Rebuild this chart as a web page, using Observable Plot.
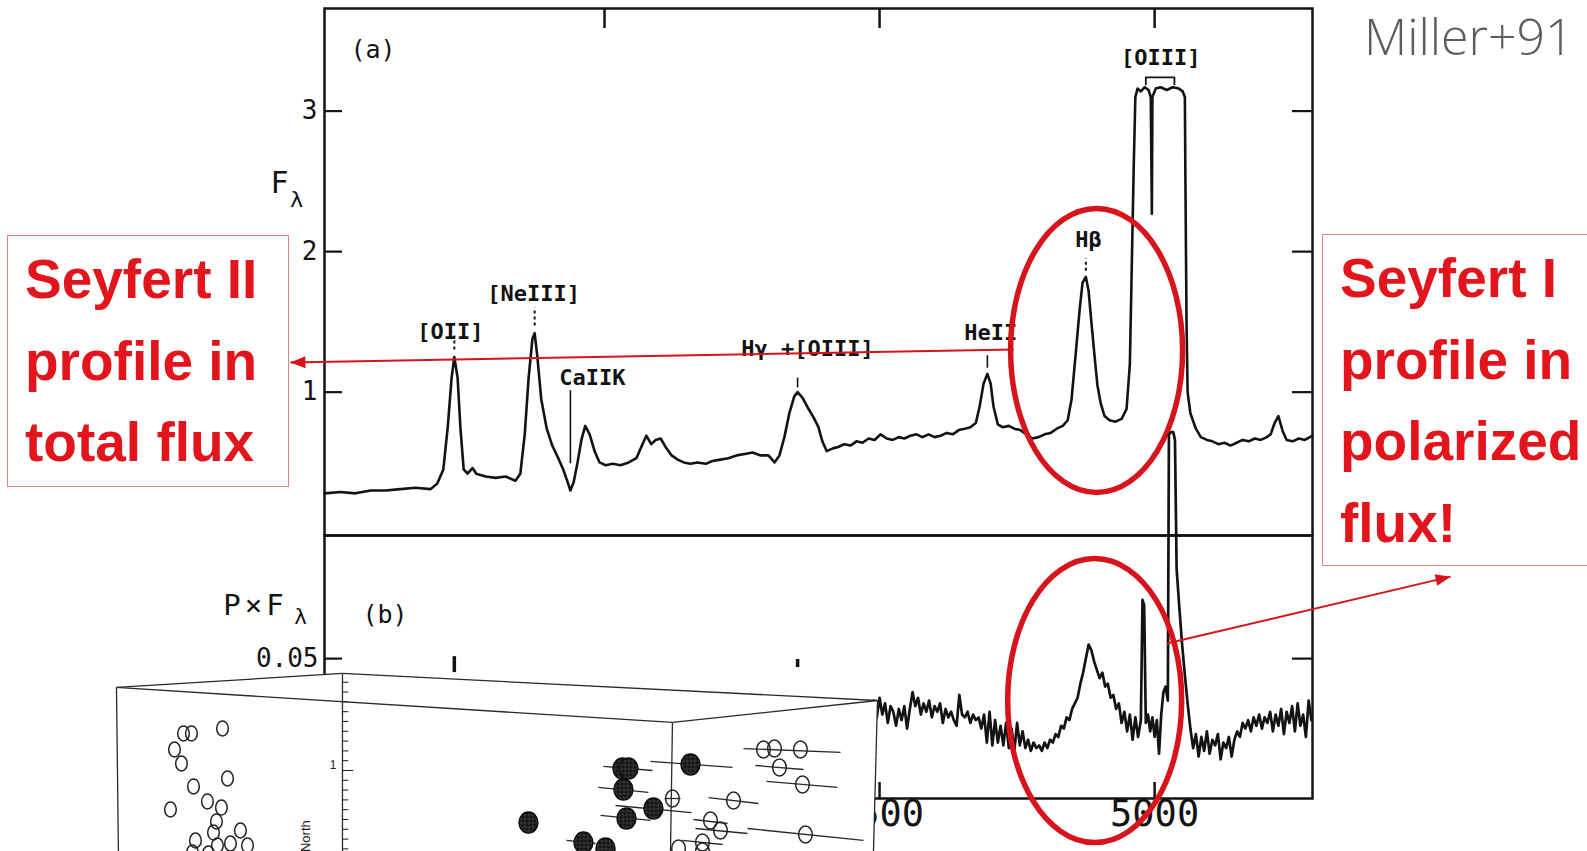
<!DOCTYPE html>
<html>
<head>
<meta charset="utf-8">
<script src="https://cdn.jsdelivr.net/npm/d3@7"></script>
<script src="https://cdn.jsdelivr.net/npm/@observablehq/plot@0.6"></script>
<style>
  html, body { margin: 0; padding: 0; background: #fff; }
  #stage { position: relative; width: 1587px; height: 851px; overflow: hidden; background: #fff; }
  #stage svg { position: absolute; overflow: visible; }
  .box {
    position: absolute; box-sizing: border-box; border: 1.5px solid #d98585;
    font-family: "Liberation Sans", Arial, sans-serif; font-weight: bold;
    font-size: 55px; line-height: 81.5px; color: #e2141c; white-space: nowrap; background: #fff;
  }
  .cite {
    position: absolute; font-family: "Open Sans", sans-serif; font-weight: 300;
    font-size: 50px; line-height: 50px; color: #5c5c5c; white-space: nowrap;
  }
</style>
</head>
<body>
<div id="stage"></div>
<script>
// ---------- data ----------
// (a) total flux F_lambda versus wavelength (Å)
const totalFluxPoints = [
  [3491,0.28],[3520,0.29],[3547,0.28],[3575,0.30],[3602,0.30],[3629,0.31],[3656,0.32],[3684,0.31],
  [3696,0.35],[3707,0.45],[3715,0.75],[3722,1.10],[3727,1.25],[3733,1.10],[3738,0.75],[3744,0.45],
  [3751,0.42],[3760,0.46],[3767,0.42],[3784,0.40],[3802,0.39],[3820,0.40],[3838,0.37],[3847,0.42],
  [3855,0.70],[3862,1.10],[3869,1.38],[3873,1.42],[3878,1.25],[3885,0.95],[3895,0.74],[3905,0.62],
  [3916,0.53],[3925,0.45],[3933,0.36],[3938,0.30],[3944,0.36],[3951,0.50],[3958,0.66],[3965,0.76],
  [3973,0.70],[3982,0.58],[3991,0.50],[4002,0.48],[4015,0.49],[4029,0.48],[4044,0.50],[4058,0.53],
  [4069,0.63],[4076,0.69],[4085,0.63],[4093,0.66],[4102,0.67],[4111,0.61],[4122,0.55],[4133,0.52],
  [4144,0.50],[4156,0.49],[4169,0.50],[4184,0.49],[4196,0.51],[4211,0.52],[4225,0.53],[4240,0.55],
  [4255,0.56],[4269,0.57],[4284,0.55],[4298,0.55],[4309,0.50],[4318,0.55],[4327,0.68],[4336,0.85],
  [4345,0.97],[4351,1.00],[4360,0.96],[4371,0.88],[4380,0.82],[4389,0.75],[4396,0.65],[4404,0.58],
  [4415,0.60],[4425,0.61],[4436,0.63],[4447,0.62],[4458,0.65],[4469,0.64],[4480,0.67],[4491,0.66],
  [4502,0.70],[4513,0.67],[4524,0.66],[4535,0.68],[4545,0.67],[4556,0.69],[4567,0.70],[4578,0.68],
  [4589,0.70],[4600,0.68],[4611,0.69],[4622,0.71],[4633,0.70],[4644,0.73],[4655,0.74],[4665,0.75],
  [4675,0.78],[4682,0.90],[4689,1.06],[4696,1.13],[4702,1.06],[4707,0.90],[4715,0.77],[4724,0.75],
  [4735,0.76],[4745,0.74],[4756,0.73],[4767,0.70],[4778,0.67],[4789,0.68],[4800,0.70],[4811,0.71],
  [4822,0.74],[4833,0.76],[4842,0.80],[4849,0.95],[4856,1.25],[4864,1.60],[4869,1.78],[4875,1.82],
  [4880,1.72],[4885,1.50],[4891,1.25],[4896,1.05],[4902,0.92],[4909,0.83],[4918,0.80],[4929,0.79],
  [4940,0.81],[4949,0.88],[4955,1.20],[4958,1.80],[4962,2.60],[4965,3.10],[4969,3.16],[4975,3.14],
  [4982,3.17],[4989,3.15],[4993,3.10],[4995,2.27],[4996,3.10],[5002,3.16],[5011,3.17],[5022,3.15],
  [5033,3.17],[5044,3.16],[5051,3.14],[5055,3.10],[5056,2.50],[5058,1.50],[5060,1.00],[5065,0.85],
  [5075,0.74],[5084,0.68],[5095,0.66],[5105,0.65],[5116,0.63],[5127,0.64],[5138,0.62],[5149,0.64],
  [5160,0.66],[5171,0.65],[5182,0.67],[5193,0.66],[5204,0.68],[5211,0.70],[5218,0.78],[5225,0.83],
  [5233,0.72],[5240,0.66],[5251,0.65],[5262,0.67],[5273,0.66],[5287,0.69]
];

// (b) polarized flux P x F_lambda versus wavelength (Å)
const polarizedFluxPoints = [
  [4485,0.031],[4490,0.035],[4495,0.029],[4500,0.036],[4505,0.030],[4510,0.034],[4515,0.027],[4520,0.033],
  [4525,0.031],[4530,0.026],[4535,0.032],[4540,0.028],[4545,0.033],[4550,0.025],[4555,0.032],[4560,0.038],
  [4565,0.033],[4570,0.036],[4575,0.030],[4580,0.034],[4585,0.031],[4590,0.035],[4595,0.029],[4600,0.033],
  [4605,0.031],[4610,0.034],[4615,0.027],[4620,0.032],[4625,0.029],[4630,0.031],[4635,0.028],[4640,0.026],
  [4645,0.037],[4650,0.030],[4655,0.029],[4660,0.031],[4665,0.027],[4670,0.030],[4675,0.028],[4680,0.029],
  [4685,0.025],[4690,0.030],[4695,0.020],[4700,0.031],[4705,0.019],[4710,0.028],[4715,0.020],[4720,0.026],
  [4725,0.019],[4730,0.027],[4735,0.018],[4740,0.025],[4745,0.017],[4750,0.027],[4755,0.019],[4760,0.024],
  [4765,0.018],[4770,0.021],[4775,0.017],[4780,0.020],[4785,0.018],[4790,0.019],[4795,0.017],[4800,0.020],
  [4805,0.018],[4810,0.021],[4815,0.020],[4820,0.023],[4825,0.022],[4830,0.026],[4835,0.025],[4840,0.029],
  [4845,0.028],[4850,0.032],[4855,0.034],[4860,0.036],[4865,0.041],[4870,0.045],[4875,0.050],[4880,0.055],
  [4885,0.053],[4890,0.049],[4895,0.046],[4900,0.043],[4905,0.045],[4910,0.040],[4915,0.041],[4920,0.036],
  [4925,0.037],[4930,0.032],[4935,0.034],[4940,0.027],[4945,0.031],[4950,0.024],[4955,0.030],[4960,0.021],
  [4965,0.029],[4970,0.022],[4975,0.028],[4978,0.071],[4981,0.069],[4984,0.027],[4988,0.030],[4992,0.024],
  [4996,0.029],[5000,0.022],[5004,0.028],[5008,0.016],[5012,0.030],[5016,0.038],[5020,0.040],[5024,0.035],
  [5026,0.130],[5030,0.131],[5034,0.131],[5037,0.128],[5040,0.082],[5045,0.068],[5050,0.055],[5055,0.044],
  [5060,0.034],[5065,0.025],[5070,0.018],[5075,0.023],[5080,0.015],[5085,0.022],[5090,0.017],[5095,0.024],
  [5100,0.016],[5105,0.021],[5110,0.019],[5115,0.023],[5120,0.014],[5125,0.020],[5130,0.018],[5135,0.022],
  [5140,0.015],[5145,0.021],[5150,0.024],[5155,0.022],[5160,0.027],[5165,0.025],[5170,0.028],[5175,0.024],
  [5180,0.029],[5185,0.026],[5190,0.030],[5195,0.025],[5200,0.029],[5205,0.027],[5210,0.031],[5215,0.024],
  [5220,0.030],[5225,0.026],[5230,0.032],[5235,0.023],[5240,0.031],[5245,0.027],[5250,0.033],[5255,0.024],
  [5260,0.034],[5265,0.026],[5270,0.030],[5275,0.022],[5280,0.035],[5285,0.028]
];

const waveTicks = [4000, 4500, 5000];
const fluxTicks = [1, 2, 3];
const polTicks = [0.05];

// emission-line identifications in panel (a)
const lineNames = ["[OII]", "[NeIII]", "CaIIK", "Hγ +[OIII]", "HeII", "Hβ", "[OIII]"];
const lineLabelWaves = [3720, 3871, 3978, 4369, 4702, 4880, 5011];
const lineLabelFlux = [1.43, 1.70, 1.10, 1.31, 1.42, 2.08, 3.38];
// little marker strokes above the lines: wavelength, bottom, top, dashed?
const markerWaves = [3727, 3873, 3938, 4351, 4696, 4875];
const markerLow = [1.30, 1.47, 0.49, 1.03, 1.17, 1.86];
const markerHigh = [1.40, 1.60, 1.01, 1.10, 1.26, 1.95];
const markerDashed = [true, true, false, false, false, true];
// bracket joining the two [OIII] lines
const oiiiBracket = [[4984, 3.19], [4984, 3.24], [5036, 3.24], [5036, 3.19]];
// markers in panel (b)
const polMarkerWaves = [3727, 4351];
const polMarkerLow = [0.045, 0.0468];
const polMarkerHigh = [0.0507, 0.0497];

// highlighted H-beta region in each panel (centre wavelength, centre value)
const hbetaTotal = {wave: 4894.5, value: 1.297};
const hbetaPolar = {wave: 4891, value: 0.035};
// pointer from the total-flux H-beta to the left caption
const pointerTotal = {wave1: 4744, value1: 1.304, wave2: 3429, value2: 1.211};
// pointer from the polarized H-beta to the right caption
const pointerPolar = {wave1: 5022, value1: 0.0554, wave2: 5538, value2: 0.0793};

// inset: projected positions (East, North)
const insetOpenNear = [[-1.622,1.378],[-1.541,1.378],[-1.224,1.429],[-1.714,1.214],[-1.643,1.071],[-1.173,0.918],
  [-1.520,0.837],[-1.755,0.602],[-1.378,0.684],[-1.235,0.622],[-1.286,0.480],[-1.316,0.367],[-1.041,0.388],
  [-1.500,0.286],[-1.276,0.235],[-1.143,0.255],[-0.969,0.235],[-1.531,0.163],[-1.367,0.153]];
const insetFilled = [[1.898,0.469],[2.857,1.020],[2.918,1.020],[2.867,0.806],[3.173,0.612],[2.898,0.510],
  [3.551,1.061],[2.459,0.265],[2.684,0.204]];
const insetOpenFar = [[4.296,1.214],[4.408,1.224],[4.673,1.214],[4.459,1.031],[4.694,0.857],[3.990,0.694],
  [3.367,0.714],[3.755,0.490],[3.857,0.388],[3.673,0.265],[3.429,0.204],[4.724,0.347],[3.673,0.173]];
const insetBars = [[2.663,1.041,3.163,1.000],[3.143,1.092,3.980,1.031],[2.612,0.827,3.122,0.776],
  [2.786,0.643,3.561,0.571],[2.633,0.541,3.143,0.490],[2.286,0.286,2.582,0.255],[4.092,1.224,5.082,1.184],
  [4.214,1.051,4.704,1.010],[4.327,0.888,5.051,0.827],[3.735,0.724,4.245,0.663],[3.582,0.500,3.929,0.459],
  [3.602,0.408,4.133,0.357],[4.133,0.408,5.316,0.286],[3.469,0.286,3.878,0.245],[3.286,0.714,3.449,0.714]];
// box corners: back-left, back-top, right, front-top, and their floor points
const insetFace = [[-2.306,1.847],[0,1.990],[5.459,1.714],[5.418,0.16],[-2.286,0.16]];
const insetEdges = [
  [-2.306,1.847,0,1.990],[0,1.990,5.459,1.714],[-2.306,1.847,3.367,1.490],[3.367,1.490,5.459,1.714],
  [-2.306,1.847,-2.286,0.16],[5.459,1.714,5.418,0.16],[3.367,1.490,3.347,0.16],[0,1.990,0,0.16]];
const northTicks = [0.2,0.3,0.4,0.5,0.6,0.7,0.8,0.9,1.0,1.1,1.2,1.3,1.4,1.5,1.6,1.7,1.8,1.9];

// ---------- drawing ----------
const INK = "#131313";
const RED = "#d7141c";
const FONT = "DejaVu Sans Mono, monospace";

function ellipseSymbol(rx, ry) {
  const k = 0.5522847498;
  return {
    draw(ctx) {
      ctx.moveTo(rx, 0);
      ctx.bezierCurveTo(rx, ry * k, rx * k, ry, 0, ry);
      ctx.bezierCurveTo(-rx * k, ry, -rx, ry * k, -rx, 0);
      ctx.bezierCurveTo(-rx, -ry * k, -rx * k, -ry, 0, -ry);
      ctx.bezierCurveTo(rx * k, -ry, rx, -ry * k, rx, 0);
      ctx.closePath();
    }
  };
}
// filled arrow head with its tip at the anchor point, pointing up before rotation
const arrowHead = {
  draw(ctx) { ctx.moveTo(0, 0); ctx.lineTo(6, 15); ctx.lineTo(-6, 15); ctx.closePath(); }
};

const totalFlux = totalFluxPoints.map(([wave, flux]) => ({wave, flux}));
const polarizedFlux = polarizedFluxPoints.map(([wave, flux]) => ({wave, flux}));
const markers = markerWaves.map((wave, i) => ({wave, y1: markerLow[i], y2: markerHigh[i], dashed: markerDashed[i]}));
const labels = lineNames.map((name, i) => ({name, wave: lineLabelWaves[i], flux: lineLabelFlux[i]}));
const polMarkers = polMarkerWaves.map((wave, i) => ({wave, y1: polMarkerLow[i], y2: polMarkerHigh[i]}));

const FRAME_W = 1312 - 324;
const style = {background: "transparent", fontFamily: FONT, color: INK, overflow: "visible"};

// panel (a): total flux
const panelA = Plot.plot({
  width: 1587, height: 536,
  marginLeft: 324, marginRight: 275, marginTop: 8, marginBottom: 1,
  style,
  x: {domain: [3491, 5287], axis: null},
  y: {domain: [-0.02, 3.73], axis: null},
  marks: [
    Plot.frame({stroke: INK, strokeWidth: 2.5}),
    Plot.tickY(fluxTicks, {stroke: INK, strokeWidth: 2.2, insetRight: FRAME_W - 18}),
    Plot.tickY(fluxTicks, {stroke: INK, strokeWidth: 2.2, insetLeft: FRAME_W - 20}),
    Plot.tickX(waveTicks, {stroke: INK, strokeWidth: 2.5, insetBottom: 527 - 20}),
    Plot.text(fluxTicks, {y: d => d, text: d => String(d), frameAnchor: "left", dx: -7, textAnchor: "end",
      fontSize: 26, fill: INK}),
    Plot.text(["F"], {frameAnchor: "left", y: () => 2.485, text: d => d, dx: -45, textAnchor: "middle",
      fontSize: 30, fill: INK}),
    Plot.text(["λ"], {frameAnchor: "left", y: () => 2.37, text: d => d, dx: -28, textAnchor: "middle",
      fontSize: 22, fill: INK}),
    Plot.text(["(a)"], {frameAnchor: "top-left", text: d => d, dx: 26, dy: 32, textAnchor: "start",
      fontSize: 25, fill: INK}),
    Plot.line(totalFlux, {x: "wave", y: "flux", stroke: INK, strokeWidth: 2.6, strokeLinejoin: "round"}),
    Plot.ruleX(markers.filter(d => d.dashed), {x: "wave", y1: "y1", y2: "y2", stroke: INK, strokeWidth: 2,
      strokeDasharray: "3,3"}),
    Plot.ruleX(markers.filter(d => !d.dashed), {x: "wave", y1: "y1", y2: "y2", stroke: INK, strokeWidth: 1.6}),
    Plot.text(labels, {x: "wave", y: "flux", text: "name", fontSize: 22, fontWeight: "bold", fill: INK}),
    Plot.line(oiiiBracket, {x: d => d[0], y: d => d[1], stroke: INK, strokeWidth: 1.8}),
    Plot.dot([hbetaTotal], {x: "wave", y: "value", symbol: ellipseSymbol(86, 142), fill: "none",
      stroke: RED, strokeWidth: 5.5}),
    Plot.link([pointerTotal], {x1: "wave1", y1: "value1", x2: "wave2", y2: "value2", stroke: RED, strokeWidth: 2}),
    Plot.dot([pointerTotal], {x: "wave2", y: "value2", symbol: arrowHead, rotate: -91, fill: RED, stroke: "none"})
  ]
});

// panel (b): polarized flux
const panelB = Plot.plot({
  width: 1587, height: 316,
  marginLeft: 324, marginRight: 275, marginTop: 0, marginBottom: 53,
  style,
  x: {domain: [3491, 5287], axis: null},
  y: {domain: [0, 0.094], axis: null},
  marks: [
    Plot.frame({stroke: INK, strokeWidth: 2.5}),
    Plot.tickY(polTicks, {stroke: INK, strokeWidth: 2.2, insetRight: FRAME_W - 18}),
    Plot.tickY(polTicks, {stroke: INK, strokeWidth: 2.2, insetLeft: FRAME_W - 20}),
    Plot.tickX(waveTicks, {stroke: INK, strokeWidth: 2.5, insetTop: 263 - 16}),
    Plot.text(polTicks, {y: d => d, text: d => String(d), frameAnchor: "left", dx: -6, textAnchor: "end",
      fontSize: 26, fill: INK}),
    Plot.text(waveTicks, {x: d => d, text: d => String(d), frameAnchor: "bottom", dy: 27, textAnchor: "middle",
      fontSize: 37, fill: INK}),
    Plot.text(["P×F"], {frameAnchor: "left", y: () => 0.069, text: d => d, dx: -69, textAnchor: "middle",
      fontSize: 29, fill: INK}),
    Plot.text(["λ"], {frameAnchor: "left", y: () => 0.0648, text: d => d, dx: -24, textAnchor: "middle",
      fontSize: 21, fill: INK}),
    Plot.text(["(b)"], {frameAnchor: "top-left", text: d => d, dx: 38, dy: 70, textAnchor: "start",
      fontSize: 25, fill: INK}),
    Plot.ruleX(polMarkers, {x: "wave", y1: "y1", y2: "y2", stroke: INK, strokeWidth: 3.5}),
    Plot.line(polarizedFlux, {x: "wave", y: "flux", stroke: INK, strokeWidth: 2.7, strokeLinejoin: "round"}),
    Plot.dot([hbetaPolar], {x: "wave", y: "value", symbol: ellipseSymbol(87, 142), fill: "none",
      stroke: RED, strokeWidth: 5.5}),
    Plot.link([pointerPolar], {x1: "wave1", y1: "value1", x2: "wave2", y2: "value2", stroke: RED, strokeWidth: 2}),
    Plot.dot([pointerPolar], {x: "wave2", y: "value2", symbol: arrowHead, rotate: 77, fill: RED, stroke: "none"})
  ]
});
// the P×F label is set a little looser, as in the hand lettering
d3.select(panelB).selectAll("text").filter(function () { return this.textContent === "P×F"; })
  .attr("letter-spacing", 4);

// inset: 3-D view of the source positions
const inset = Plot.plot({
  width: 790, height: 191, margin: 0,
  style: {background: "transparent", fontFamily: "Liberation Sans, Arial, sans-serif", color: "#222"},
  x: {domain: [-2.469, 5.592], axis: null},
  y: {domain: [0.1735, 2.122], axis: null},
  marks: [
    Plot.line(insetFace, {x: d => d[0], y: d => d[1], fill: "white", stroke: "none"}),
    Plot.link(insetEdges, {x1: d => d[0], y1: d => d[1], x2: d => d[2], y2: d => d[3], stroke: "#2a2a2a",
      strokeWidth: 1.3}),
    Plot.link(northTicks, {x1: () => 0, y1: d => d, x2: d => (d === 1 ? 0.11 : 0.06), y2: d => d,
      stroke: "#2a2a2a", strokeWidth: 1.1}),
    Plot.text([1], {x: () => 0, y: d => d, text: d => String(d), dx: -6, dy: -5, textAnchor: "end",
      fontSize: 12, fill: "#222"}),
    Plot.text(["North"], {x: () => -0.378, y: () => 0.33, text: d => d, rotate: -90, fontSize: 13, fill: "#222"}),
    Plot.link(insetBars, {x1: d => d[0], y1: d => d[1], x2: d => d[2], y2: d => d[3], stroke: "#2a2a2a",
      strokeWidth: 1.3}),
    Plot.dot(insetOpenNear, {x: d => d[0], y: d => d[1], symbol: ellipseSymbol(5.8, 7.5), fill: "none",
      stroke: "#222", strokeWidth: 1.5}),
    Plot.dot(insetOpenFar, {x: d => d[0], y: d => d[1], symbol: ellipseSymbol(6.8, 8.5), fill: "none",
      stroke: "#222", strokeWidth: 1.5}),
    Plot.dot(insetFilled, {x: d => d[0], y: d => d[1], symbol: ellipseSymbol(9.5, 10.5), fill: "url(#inset-hatch)",
      stroke: "#0d0d0d", strokeWidth: 1.4})
  ]
});
const defs = d3.select(inset).insert("defs", ":first-child");
const hatch = defs.append("pattern").attr("id", "inset-hatch")
  .attr("width", 4).attr("height", 4).attr("patternUnits", "userSpaceOnUse");
hatch.append("rect").attr("width", 4).attr("height", 4).attr("fill", "#141414");
hatch.append("path").attr("d", "M0 0.5H4M0.5 0V4").attr("stroke", "#4e4e4e").attr("stroke-width", 0.6);

const stage = document.getElementById("stage");
function place(el, left, top) {
  el.style.left = left + "px";
  el.style.top = top + "px";
  stage.appendChild(el);
}
place(panelA, 0, 0);
place(panelB, 0, 535);
place(inset, 100, 660);

function captionBox(lines, left, top, width, height) {
  const div = document.createElement("div");
  div.className = "box";
  div.style.left = left + "px";
  div.style.top = top + "px";
  div.style.width = width + "px";
  div.style.height = height + "px";
  div.style.paddingLeft = "17px";
  div.style.paddingTop = "3px";
  div.innerHTML = lines.map(t => `<div>${t}</div>`).join("");
  stage.appendChild(div);
}
captionBox(["Seyfert II", "profile in", "total flux"], 7, 235, 282, 252);
captionBox(["Seyfert I", "profile in", "polarized", "flux!"], 1322, 234, 330, 332);

const cite = document.createElement("div");
cite.className = "cite";
cite.textContent = "Miller+91";
cite.style.left = "1364px";
cite.style.top = "11px";
stage.appendChild(cite);
</script>
</body>
</html>
